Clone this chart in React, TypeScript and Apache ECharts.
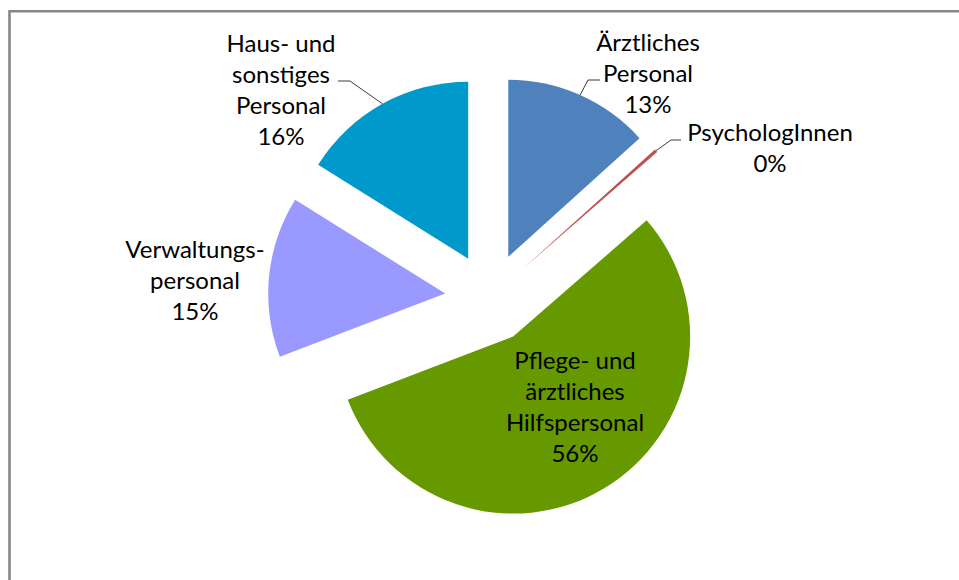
import React, { useEffect, useRef } from 'react';
import * as echarts from 'echarts';

// ---- data ----
const categories = [
  'Ärztliches\nPersonal',
  'PsychologInnen',
  'Pflege- und\närztliches\nHilfspersonal',
  'Verwaltungs-\npersonal',
  'Haus- und\nsonstiges\nPersonal',
];
const values = [13.3, 0.3, 55.6, 14.7, 16.1];
const colors = ['#4F81BD', '#C0504D', '#669900', '#9999FF', '#0099CC'];

// ---- layout ----
const CX = 490;
const CY = 298;
const R = 177;
const OFFSET = 45;
const labelPos: number[][] = [
  [648, 72],
  [770, 147],
  [575, 406],
  [195, 279],
  [281, 89],
];
const leader: (number[][] | null)[] = [
  [[588, 80], [600, 80]],
  [[671, 140], [681, 140]],
  null,
  null,
  [[350, 81], [338, 81]],
];

export default function App() {
  const ref = useRef<HTMLDivElement>(null);
  useEffect(() => {
    if (!ref.current) return;
    const chart = echarts.init(ref.current, undefined, { renderer: 'svg' });
    const total = values.reduce((a, b) => a + b, 0);

    const graphics: any[] = [
      {
        type: 'rect',
        shape: { x: 9.5, y: 11.2, width: 1200, height: 1000 },
        style: { fill: 'none', stroke: '#878787', lineWidth: 2.6 },
        silent: true,
      },
    ];
    let cum = 0;
    values.forEach((v, i) => {
      const mid = ((cum + v / 2) / total) * Math.PI * 2;
      cum += v;
      const dx = Math.sin(mid);
      const dy = -Math.cos(mid);
      const edge = [CX + (R + OFFSET) * dx, CY + (R + OFFSET) * dy];
      const pct = Math.round((v / total) * 100);
      graphics.push({
        type: 'text',
        silent: true,
        z: 10,
        style: {
          text: `${categories[i]}\n${pct}%`,
          x: labelPos[i][0],
          y: labelPos[i][1],
          textAlign: 'center',
          textVerticalAlign: 'middle',
          fontFamily: 'Lato',
          fontSize: 24,
          lineHeight: 31,
          fill: '#000000',
        },
      });
      if (leader[i]) {
        graphics.push({
          type: 'polyline',
          silent: true,
          z: 9,
          shape: { points: [edge, ...(leader[i] as number[][])] },
          style: { stroke: '#3a3a3a', lineWidth: 1, fill: 'none' },
        });
      }
    });

    const option: any = {
      animation: false,
      backgroundColor: '#ffffff',
      graphic: graphics,
      series: [
        {
          type: 'pie',
          center: [CX, CY],
          radius: R,
          startAngle: 90,
          clockwise: true,
          avoidLabelOverlap: false,
          selectedMode: 'multiple',
          selectedOffset: OFFSET,
          emphasis: { disabled: true, scale: false },
          select: { itemStyle: { borderWidth: 0 } },
          itemStyle: { borderWidth: 0 },
          label: { show: false },
          labelLine: { show: false },
          data: categories.map((name, i) => ({
            name,
            value: values[i],
            selected: true,
            itemStyle: { color: colors[i] },
          })),
        },
      ],
    };
    chart.setOption(option);
    return () => chart.dispose();
  }, []);
  return (
    <div
      ref={ref}
      style={{ position: 'fixed', left: 0, top: 0, width: 959, height: 580, background: '#fff' }}
    />
  );
}
